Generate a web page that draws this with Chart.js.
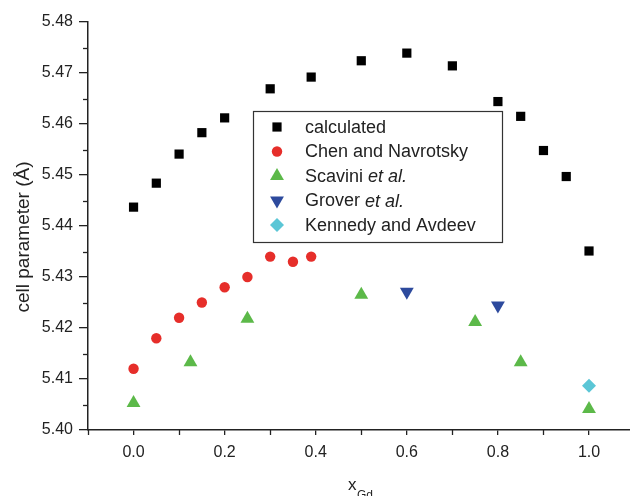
<!DOCTYPE html>
<html>
<head>
<meta charset="utf-8">
<script src="https://cdn.jsdelivr.net/npm/chart.js@4.4.0/dist/chart.umd.min.js"></script>
<style>
  body { margin: 0; background: #fff; }
  #wrap { width: 630px; height: 496px; }
</style>
</head>
<body>
<div id="wrap"><canvas id="chart" width="630" height="496"></canvas></div>
<script>
// data
var calcX = [0, 0.05, 0.1, 0.15, 0.2, 0.3, 0.39, 0.5, 0.6, 0.7, 0.8, 0.85, 0.9, 0.95, 1.0];
var calcY = [5.4437, 5.4484, 5.4541, 5.4583, 5.4612, 5.4669, 5.4692, 5.4724, 5.4739, 5.4714, 5.4644, 5.4615, 5.4548, 5.4497, 5.4351];

var chenX = [0, 0.05, 0.1, 0.15, 0.2, 0.25, 0.3, 0.35, 0.39];
var chenY = [5.412, 5.418, 5.422, 5.425, 5.428, 5.430, 5.434, 5.433, 5.434];

var scavX = [0, 0.125, 0.25, 0.5, 0.75, 0.85, 1.0];
var scavY = [5.4053, 5.4133, 5.4218, 5.4265, 5.4212, 5.4133, 5.4041];

var grovX = [0.6, 0.8];
var grovY = [5.4271, 5.4244];

var kennX = [1.0];
var kennY = [5.4087];

var xMajor = [0, 0.2, 0.4, 0.6, 0.8, 1.0];
var xMinor = [-0.1, 0.1, 0.3, 0.5, 0.7, 0.9];
var yMajor = [5.40, 5.41, 5.42, 5.43, 5.44, 5.45, 5.46, 5.47, 5.48];
var yMinor = [5.405, 5.415, 5.425, 5.435, 5.445, 5.455, 5.465, 5.475];

function pts(xs, ys) {
  return xs.map(function (x, i) { return { x: x, y: ys[i] }; });
}

// legend entries: plain text + italic tail
var legendItems = [
  { text: "calculated", ital: "", style: "rect", color: "#000000", r: 6.5, rot: 0 },
  { text: "Chen and Navrotsky", ital: "", style: "circle", color: "#e62e2a", r: 5.2, rot: 0 },
  { text: "Scavini ", ital: "et al.", style: "triangle", color: "#5cb949", r: 8, rot: 0 },
  { text: "Grover ", ital: "et al.", style: "triangle", color: "#2d4a9d", r: 8, rot: 180 },
  { text: "Kennedy and Avdeev", ital: "", style: "rectRot", color: "#5bc6d6", r: 7, rot: 0 }
];

var FONT = "'Liberation Sans', Arial, sans-serif";
var INK = "#222";

var extras = {
  id: "extras",
  afterDraw: function (chart) {
    var ctx = chart.ctx;
    var xs = chart.scales.x, ys = chart.scales.y;
    var area = chart.chartArea;
    ctx.save();
    ctx.strokeStyle = INK;
    ctx.lineWidth = 1.3;
    // minor ticks
    xMinor.forEach(function (v) {
      var px = Math.round(xs.getPixelForValue(v)) + 0.5;
      ctx.beginPath();
      ctx.moveTo(px, area.bottom);
      ctx.lineTo(px, area.bottom + 5);
      ctx.stroke();
    });
    yMinor.forEach(function (v) {
      var py = Math.round(ys.getPixelForValue(v)) + 0.5;
      ctx.beginPath();
      ctx.moveTo(area.left, py);
      ctx.lineTo(area.left - 5, py);
      ctx.stroke();
    });

    // y title
    ctx.fillStyle = INK;
    ctx.font = "19px " + FONT;
    ctx.textAlign = "center";
    ctx.textBaseline = "middle";
    ctx.save();
    ctx.translate(24, 237);
    ctx.rotate(-Math.PI / 2);
    ctx.fillText("cell parameter (\u00C5)", 0, 0);
    ctx.restore();

    // x title with subscript
    ctx.textAlign = "left";
    ctx.textBaseline = "alphabetic";
    ctx.font = "17px " + FONT;
    ctx.fillText("x", 348, 490);
    ctx.font = "12px " + FONT;
    ctx.fillText("Gd", 357, 499);

    // legend box
    var bx = 253.5, by = 111.5, bw = 249, bh = 131;
    ctx.fillStyle = "#fff";
    ctx.fillRect(bx, by, bw, bh);
    ctx.strokeStyle = "#333";
    ctx.lineWidth = 1.2;
    ctx.strokeRect(bx, by, bw, bh);
    legendItems.forEach(function (it, i) {
      var cy = 127 + i * 24.5;
      ctx.fillStyle = it.color;
      ctx.strokeStyle = it.color;
      Chart.helpers.drawPoint(ctx, { pointStyle: it.style, radius: it.r, rotation: it.rot, borderWidth: 0 }, 277, cy);
      ctx.fillStyle = INK;
      ctx.textBaseline = "middle";
      ctx.font = "18px " + FONT;
      ctx.fillText(it.text, 305, cy + 1);
      if (it.ital) {
        var w = ctx.measureText(it.text).width;
        ctx.font = "italic 18px " + FONT;
        ctx.fillText(it.ital, 305 + w, cy + 1);
      }
    });
    ctx.restore();
  }
};

function ds(label, data, style, color, r, rot) {
  return {
    label: label,
    data: data,
    pointStyle: style,
    pointRadius: r,
    pointHoverRadius: r,
    pointRotation: rot || 0,
    pointBackgroundColor: color,
    pointBorderColor: color,
    pointBorderWidth: 0,
    showLine: false
  };
}

new Chart(document.getElementById("chart"), {
  type: "scatter",
  data: {
    datasets: [
      ds("calculated", pts(calcX, calcY), "rect", "#000000", 6.5),
      ds("Chen and Navrotsky", pts(chenX, chenY), "circle", "#e62e2a", 5.2),
      ds("Scavini et al.", pts(scavX, scavY), "triangle", "#5cb949", 8),
      ds("Grover et al.", pts(grovX, grovY), "triangle", "#2d4a9d", 8, 180),
      ds("Kennedy and Avdeev", pts(kennX, kennY), "rectRot", "#5bc6d6", 7)
    ]
  },
  options: {
    responsive: false,
    animation: false,
    layout: { autoPadding: false, padding: { top: 22, right: 0, left: 0, bottom: 0 } },
    plugins: { legend: { display: false }, tooltip: { enabled: false } },
    scales: {
      x: {
        type: "linear",
        min: -0.1,
        max: 1.09,
        afterBuildTicks: function (s) { s.ticks = xMajor.map(function (v) { return { value: v }; }); },
        afterFit: function (s) { s.height = 66; },
        ticks: {
          padding: 8,
          color: INK,
          font: { size: 16, family: FONT },
          callback: function (v) { return v.toFixed(1); }
        },
        grid: { drawOnChartArea: false, drawTicks: true, tickLength: 5, color: INK, lineWidth: 1.3 },
        border: { display: true, color: INK, width: 1.5 }
      },
      y: {
        type: "linear",
        min: 5.40,
        max: 5.48,
        afterBuildTicks: function (s) { s.ticks = yMajor.map(function (v) { return { value: v }; }); },
        afterFit: function (s) { s.width = 88; },
        ticks: {
          padding: 6,
          color: INK,
          font: { size: 16, family: FONT },
          callback: function (v) { return v.toFixed(2); }
        },
        grid: { drawOnChartArea: false, drawTicks: true, tickLength: 9, color: INK, lineWidth: 1.3 },
        border: { display: true, color: INK, width: 1.5 }
      }
    }
  },
  plugins: [extras]
});
</script>
</body>
</html>
